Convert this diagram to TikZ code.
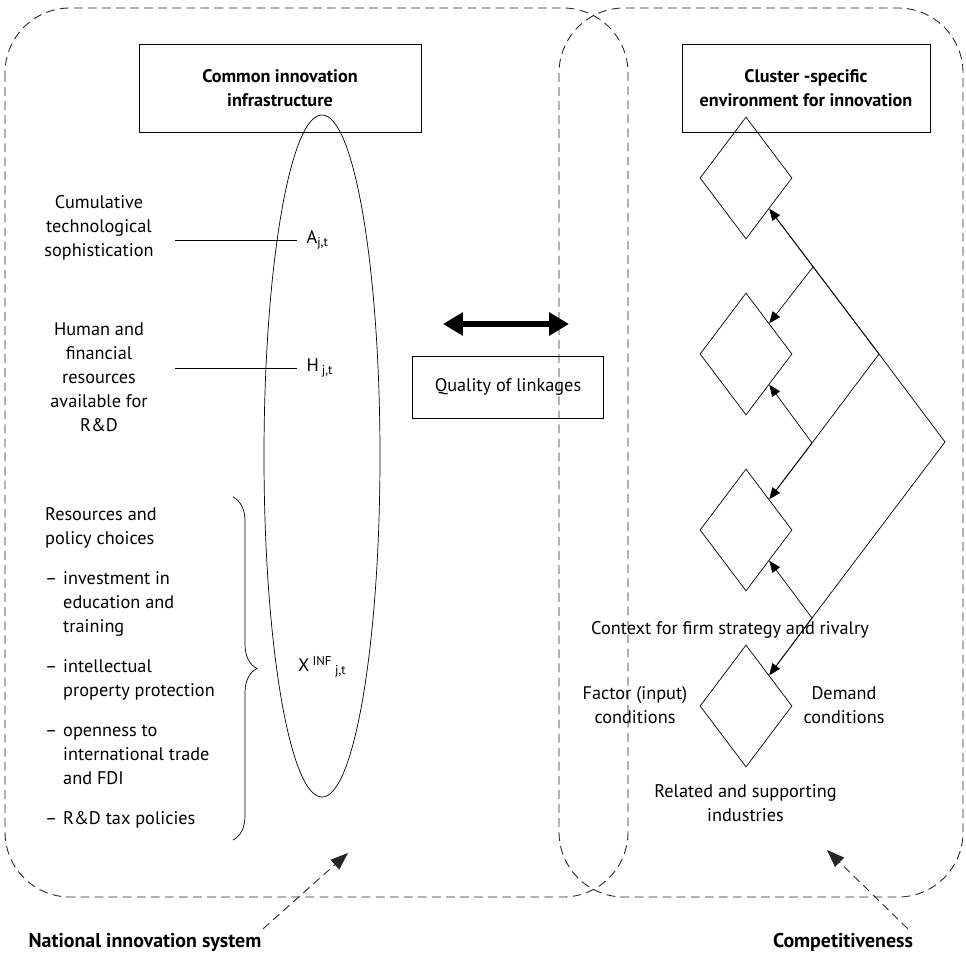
\documentclass[tikz,border=0pt]{standalone}
\usepackage{fontspec}
\setmainfont{PT Sans}
\usetikzlibrary{shapes.geometric,arrows.meta,decorations.pathreplacing,positioning}

\newcommand{\itm}{\makebox[5.4mm][l]{\textendash}}
\newcommand{\indnt}{\hspace*{5.4mm}}

\tikzset{
  every node/.style={font=\fontsize{15.6pt}{20.5pt}\selectfont},
  hull/.style={draw=black!85, line width=0.75pt, dash pattern=on 7.5pt off 4.5pt, rounded corners=1.95cm},
  headbox/.style={draw, line width=0.6pt, align=center, font=\fontsize{15.5pt}{20.5pt}\selectfont\bfseries, minimum width=8.46cm, minimum height=2.64cm},
  gem/.style={draw, diamond, inner sep=0pt, line width=0.6pt, minimum width=2.76cm, minimum height=3.66cm},
  feed/.style={-{Triangle[length=10pt,width=8pt]}, line width=0.6pt},
  heavy/.style={line width=0.9pt},
  pointer/.style={draw=black!85, line width=0.75pt, dash pattern=on 7pt off 4.5pt, -{Triangle[length=15pt,width=11pt]}},
  tag/.style={font=\fontsize{17pt}{20.5pt}\selectfont\bfseries}
}

\begin{document}
\begin{tikzpicture}[x=0.3mm,y=0.3mm]
\useasboundingbox (0,0) rectangle (966,-959);
% the two systems
\draw[hull] (5,-8) rectangle (628,-897);
\draw[hull] (559,-8) rectangle (963,-897);

% headings
\node[headbox] (infra) at (280,-88) {Common innovation\\infrastructure};
\node[headbox, minimum width=7.44cm] (clus) at (806,-88) {Cluster -specific\\environment for innovation};

% the ellipse of the common infrastructure
\node[draw, ellipse, line width=0.6pt, minimum width=3.48cm, minimum height=20.46cm] (oval) at (322,-456) {};

% inputs on the left
\node[align=center] (cumul) at (99,-228) {Cumulative\\technological\\sophistication};
\node[anchor=west, inner xsep=8pt] (aj) at (297,-240) {A\textsubscript{j,t}};
\coordinate (astart) at (175,-240);
\draw[line width=0.6pt] (astart) -- (aj.west);

\node[align=center] (human) at (99,-377) {Human and\\financial\\resources\\available for\\R\&D};
\node[anchor=west, inner xsep=8pt] (hj) at (297,-368) {H\,\textsubscript{j,t}};
\coordinate (hstart) at (175,-368);
\draw[line width=0.6pt] (hstart) -- (hj.west);

\node[anchor=north west, inner sep=0pt, align=left] (policy) at (45,-507) {%
Resources and\\policy choices\\[4.8mm]
\itm investment in\\\indnt education and\\\indnt training\\[4.8mm]
\itm intellectual\\\indnt property protection\\[4.8mm]
\itm openness to\\\indnt international trade\\\indnt and FDI\\[4.8mm]
\itm R\&D tax policies};
\draw[decorate, decoration={brace, amplitude=7.2mm}, line width=0.6pt] (233,-497) -- (233,-840);
\node[anchor=west, inner sep=0pt] (xinf) at (298,-667) {X\,\textsuperscript{INF}\,\textsubscript{j,t}};

% linkages
\node[draw, line width=0.6pt, minimum width=5.73cm, minimum height=1.86cm] (link) at (508,-387) {Quality of linkages};
\coordinate (lleft) at (443,-324);
\coordinate (lright) at (569,-324);
\draw[{Triangle[length=17pt,width=19pt]}-{Triangle[length=17pt,width=19pt]}, line width=4.3pt] (lleft) -- (lright);

% the diamond
\foreach \n/\y in {1/178,2/354,3/530,4/706}
  \node[gem] (d\n) at (746,-\y) {};
\coordinate (apex) at (945,-442);
\coordinate (ja) at (813,-267);
\coordinate (jb) at (879,-354);
\coordinate (jc) at (812,-443);
\coordinate (jd) at (812,-618);
\draw[line width=0.6pt] (apex) -- (jb);
\draw[feed, heavy] (jb) -- (d1.south east);
\draw[line width=0.6pt] (apex) -- (jd);
\draw[feed, heavy] (jd) -- (d4.north east);
\draw[feed] (ja) -- (d2.north east);
\draw[line width=0.6pt] (jb) -- (jc);
\draw[feed, heavy] (jc) -- (d3.north east);
\draw[feed] (jc) -- (d2.south east);
\draw[feed] (jd) -- (d3.south east);

\node (ctx) at (730,-630) {Context for firm strategy and rivalry};
\node[align=center] (factor) at (635,-705) {Factor (input)\\conditions};
\node[align=center] (demand) at (844,-705) {Demand\\conditions};
\node[align=center] (related) at (745.5,-803) {Related and supporting\\industries};

% names of the two systems
\node[tag] (nis) at (145,-942) {National innovation system};
\node[tag] (comp) at (843,-942) {Competitiveness};
\coordinate (nistip) at (348,-853);
\coordinate (comptip) at (827,-850);
\draw[pointer] ([xshift=-2pt]nis.north east) -- (nistip);
\draw[pointer] ([xshift=-8pt]comp.north east) -- (comptip);
\end{tikzpicture}
\end{document}
